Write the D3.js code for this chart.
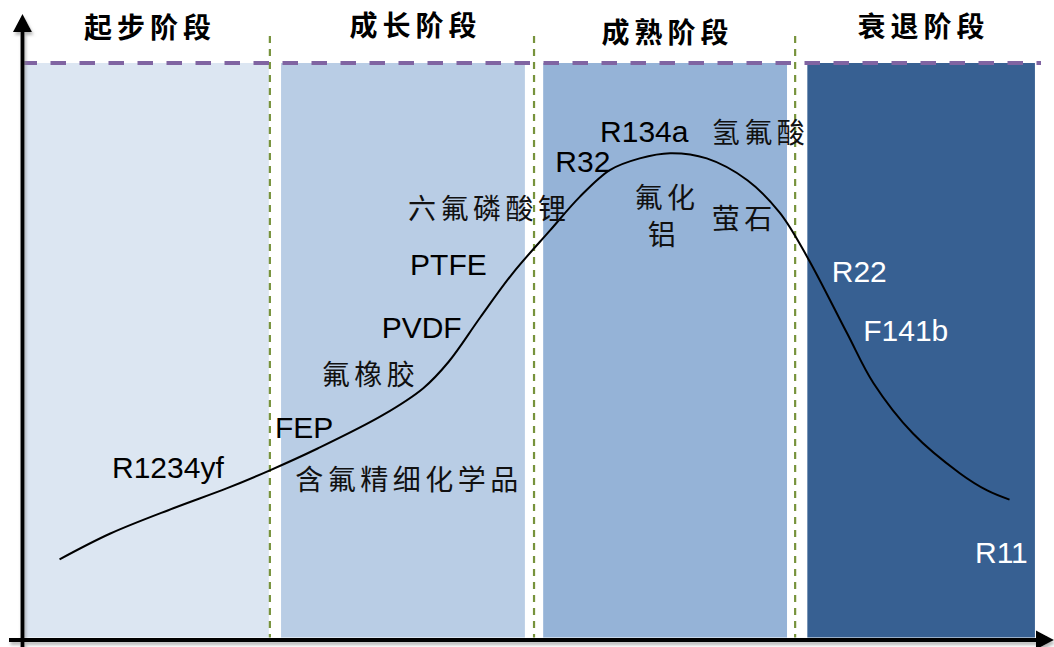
<!DOCTYPE html>
<html><head><meta charset="utf-8">
<script src="https://cdn.jsdelivr.net/npm/d3@7/dist/d3.min.js"></script>
<style>html,body{margin:0;padding:0;background:#fff;}svg{display:block;}</style>
</head><body>
<svg id="c" width="1054" height="647"></svg>
<script>
// ---- data ----
const stageNames = ["起步阶段", "成长阶段", "成熟阶段", "衰退阶段"];
const stageStart = [0, 25.3, 51.1, 77.1];
const stageEnd = [24.1, 49.3, 75.1, 99.5];
const stageColors = ["#DCE6F2", "#B9CDE5", "#95B3D7", "#376092"];
const separators = [24.2, 50.2, 75.9];
const curveT = [3.5, 8.5, 14.7, 20.0, 24.2, 28.9, 35.3, 39.3, 41.8, 44.9, 48.1, 51.8, 54.7, 57.7, 60.6, 63.6, 67.2, 71.2, 74.4, 77.1, 81.0, 83.6, 87.5, 92.1, 94.8, 97.0];
const curveV = [13.6, 18.1, 22.5, 26.0, 29.1, 32.9, 38.7, 43.4, 48.0, 55.7, 63.4, 70.9, 76.7, 81.4, 83.4, 84.3, 83.4, 79.6, 73.9, 66.2, 53.0, 44.3, 35.5, 28.6, 25.6, 24.0];
const latinLabels = ["R1234yf", "FEP", "PVDF", "PTFE", "R32", "R134a", "R22", "F141b", "R11"];
const latinT = [8.66, 24.7, 35.2, 38.0, 52.3, 56.7, 79.5, 82.6, 93.6];
const latinV = [27.7, 34.7, 52.1, 63.1, 81.0, 86.2, 61.8, 51.6, 12.9];
const latinWhite = [false, false, false, false, false, false, true, true, true];
const cjkLabels = ["含氟精细化学品", "氟橡胶", "六氟磷酸锂", "氢氟酸", "氟化", "铝", "萤石"];
const cjkT = [26.7, 29.3, 37.8, 67.7, 60.1, 61.4, 67.7];
const cjkV = [27.7, 46.0, 74.9, 88.2, 76.8, 70.4, 73.2];

// ---- drawing ----
const svg = d3.select("#c");
const x = d3.scaleLinear().domain([0, 100]).range([24, 1040]);
const y = d3.scaleLinear().domain([0, 100]).range([637.5, 63]);

const defs = svg.append("defs");
const f = defs.append("filter").attr("id", "sh").attr("x", "-5%").attr("y", "-5%").attr("width", "110%").attr("height", "120%");
f.append("feDropShadow").attr("dx", 1.5).attr("dy", 3).attr("stdDeviation", 1.5).attr("flood-color", "#888").attr("flood-opacity", 0.6);

// stage rects
svg.append("g").selectAll("rect").data(stageNames).join("rect")
  .attr("x", (d, i) => x(stageStart[i]))
  .attr("y", y(100))
  .attr("width", (d, i) => x(stageEnd[i]) - x(stageStart[i]))
  .attr("height", y(0) - y(100))
  .attr("fill", (d, i) => stageColors[i]);

// separators
svg.append("g").selectAll("line").data(separators).join("line")
  .attr("x1", d => x(d)).attr("x2", d => x(d))
  .attr("y1", 36).attr("y2", y(0))
  .attr("stroke", "#77933C").attr("stroke-width", 2.2).attr("stroke-dasharray", "7,6");

// purple dashed top line
svg.append("line")
  .attr("x1", 21.5).attr("x2", 1041).attr("y1", y(100)).attr("y2", y(100))
  .attr("stroke", "#8064A2").attr("stroke-width", 4).attr("stroke-dasharray", "15.5,13.5");

// stage titles
svg.append("g").selectAll("text").data(stageNames).join("text")
  .attr("x", (d, i) => (x(stageStart[i]) + x(stageEnd[i])) / 2 + [1, 10, 0, 0][i] + 2.5)
  .attr("y", (d, i) => [26, 23.5, 31, 24.5][i])
  .attr("text-anchor", "middle").attr("dominant-baseline", "central")
  .attr("font-family", "'Noto Sans CJK SC'").attr("font-weight", 700)
  .attr("font-size", 28).attr("letter-spacing", 5)
  .attr("fill", "#000").text(d => d);

// curve
const pts = curveT.map((t, i) => [t, curveV[i]]);
svg.append("path").datum(pts)
  .attr("d", d3.line().x(d => x(d[0])).y(d => y(d[1])).curve(d3.curveCatmullRom.alpha(0.5)))
  .attr("fill", "none").attr("stroke", "#000").attr("stroke-width", 2);

// latin labels
svg.append("g").selectAll("text").data(latinLabels).join("text")
  .attr("x", (d, i) => x(latinT[i])).attr("y", (d, i) => y(latinV[i]))
  .attr("font-family", "'Liberation Sans', Arial, sans-serif").attr("font-size", 30)
  .attr("fill", (d, i) => latinWhite[i] ? "#fff" : "#000").text(d => d);

// cjk labels
svg.append("g").selectAll("text").data(cjkLabels).join("text")
  .attr("x", (d, i) => x(cjkT[i])).attr("y", (d, i) => y(cjkV[i]))
  .attr("dominant-baseline", "central")
  .attr("font-family", "'Noto Sans CJK SC'").attr("font-size", 28).attr("letter-spacing", 4.5)
  .attr("fill", "#111").text(d => d);

// axes with arrows
const ax = svg.append("g").attr("filter", "url(#sh)");
ax.append("line").attr("x1", 22.5).attr("x2", 22.5).attr("y1", 647).attr("y2", 28)
  .attr("stroke", "#000").attr("stroke-width", 4);
ax.append("path").attr("d", d3.line()([[13, 32], [22.5, 14], [32, 32]]) + "Z").attr("fill", "#000");
ax.append("line").attr("x1", 9).attr("x2", 1040).attr("y1", 640).attr("y2", 640)
  .attr("stroke", "#000").attr("stroke-width", 4);
ax.append("path").attr("d", d3.line()([[1036, 630.5], [1054, 640], [1036, 649.5]]) + "Z").attr("fill", "#000");
</script>
</body></html>
